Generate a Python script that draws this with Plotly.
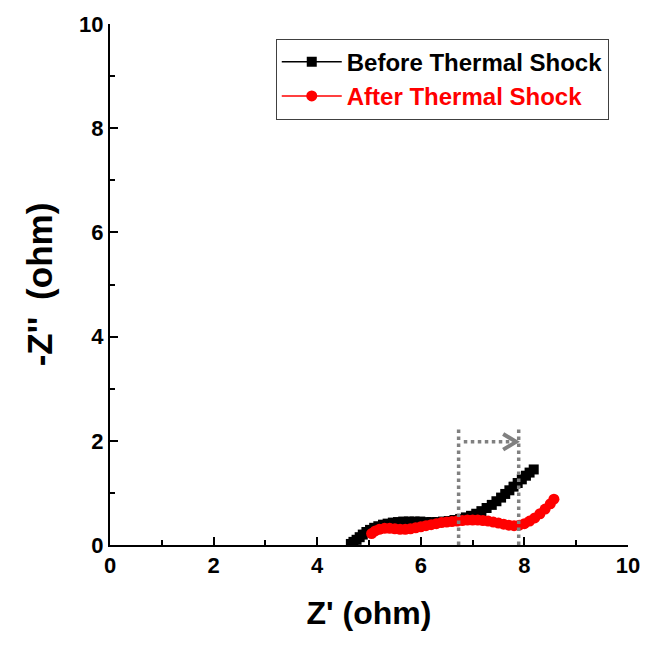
import plotly.graph_objects as go

before_x = [4.65, 4.70, 4.76, 4.82, 4.88, 4.95, 5.02, 5.10, 5.18, 5.27, 5.36, 5.46, 5.56, 5.66,
            5.77, 5.88, 5.99, 6.10, 6.21, 6.32, 6.43, 6.54, 6.65, 6.76, 6.87, 6.97, 7.07, 7.17,
            7.27, 7.37, 7.46, 7.55, 7.63, 7.71, 7.79, 7.87, 7.95, 8.03, 8.10, 8.18]
before_y = [0.02, 0.06, 0.10, 0.15, 0.20, 0.25, 0.29, 0.33, 0.36, 0.39, 0.41, 0.43, 0.44, 0.45,
            0.45, 0.45, 0.45, 0.44, 0.44, 0.44, 0.45, 0.46, 0.48, 0.50, 0.53, 0.56, 0.60, 0.65,
            0.71, 0.77, 0.84, 0.91, 0.98, 1.05, 1.12, 1.19, 1.26, 1.33, 1.39, 1.45]

after_x = [5.05, 5.12, 5.20, 5.30, 5.40, 5.50, 5.60, 5.70, 5.80, 5.90, 6.00, 6.10, 6.20, 6.30,
           6.40, 6.50, 6.60, 6.70, 6.80, 6.90, 7.00, 7.10, 7.20, 7.30, 7.40, 7.50, 7.60, 7.70,
           7.80, 7.90, 8.00, 8.10, 8.20, 8.30, 8.40, 8.50, 8.57]
after_y = [0.22, 0.27, 0.30, 0.32, 0.32, 0.31, 0.30, 0.30, 0.31, 0.33, 0.35, 0.37, 0.39, 0.41,
           0.43, 0.44, 0.45, 0.46, 0.47, 0.48, 0.48, 0.48, 0.47, 0.46, 0.44, 0.42, 0.40, 0.38,
           0.37, 0.38, 0.41, 0.46, 0.52, 0.60, 0.69, 0.79, 0.88]

tick_vals = [0, 2, 4, 6, 8, 10]
box_x0, box_x1, box_top = 6.73, 7.89, 2.26
arrow_y = 1.98

FONT = "Liberation Sans, Arial, sans-serif"

fig = go.Figure()
fig.add_trace(go.Scatter(x=before_x, y=before_y, mode="lines+markers", name="Before Thermal Shock",
                         line=dict(color="black", width=1.5),
                         marker=dict(symbol="square", size=10, color="black")))
fig.add_trace(go.Scatter(x=after_x, y=after_y, mode="lines+markers",
                         name="<span style='color:#ff0000'>After Thermal Shock</span>",
                         line=dict(color="#ff0000", width=1.5),
                         marker=dict(symbol="circle", size=11, color="#ff0000")))

gray = "#808080"
fig.add_shape(type="line", x0=box_x0, x1=box_x0, y0=0, y1=box_top, xref="x", yref="y",
              line=dict(color=gray, width=3.5, dash="dot"))
fig.add_shape(type="line", x0=box_x1, x1=box_x1, y0=0, y1=box_top, xref="x", yref="y",
              line=dict(color=gray, width=3.5, dash="dot"))
fig.add_shape(type="line", x0=box_x0 + 0.1, x1=box_x1 - 0.1, y0=arrow_y, y1=arrow_y, xref="x", yref="y",
              line=dict(color=gray, width=3.5, dash="dot"))
fig.add_shape(type="path",
              path=f"M {box_x1-0.3},{arrow_y+0.15} L {box_x1-0.05},{arrow_y} L {box_x1-0.3},{arrow_y-0.15}",
              xref="x", yref="y", line=dict(color=gray, width=4))

axis_common = dict(range=[0, 10], tickvals=tick_vals, showline=True, linecolor="black", linewidth=2,
                   ticks="inside", ticklen=8, tickwidth=2, tickcolor="black",
                   minor=dict(dtick=1, ticks="inside", ticklen=5, tickwidth=2, tickcolor="black"),
                   showgrid=False, zeroline=False, mirror=False,
                   tickfont=dict(family=FONT, size=22, color="black", weight="bold"))

fig.update_xaxes(**axis_common,
                 title=dict(text="Z' (ohm)", standoff=24,
                            font=dict(family=FONT, size=32, color="black", weight="bold")))
fig.update_yaxes(**axis_common,
                 title=dict(text="-Z''\u2009 (ohm)", standoff=16,
                            font=dict(family=FONT, size=35, color="black", weight="bold")))

fig.update_layout(
    width=652, height=653,
    margin=dict(l=110, r=19, t=22, b=108),
    plot_bgcolor="white", paper_bgcolor="white",
    showlegend=True,
    legend=dict(x=0.32, y=0.972, xanchor="left", yanchor="top",
                bordercolor="#404040", borderwidth=1, bgcolor="white",
                font=dict(family=FONT, size=24, color="black", weight="bold"),
                itemwidth=60, tracegroupgap=0),
)

fig.write_html("out.html")
